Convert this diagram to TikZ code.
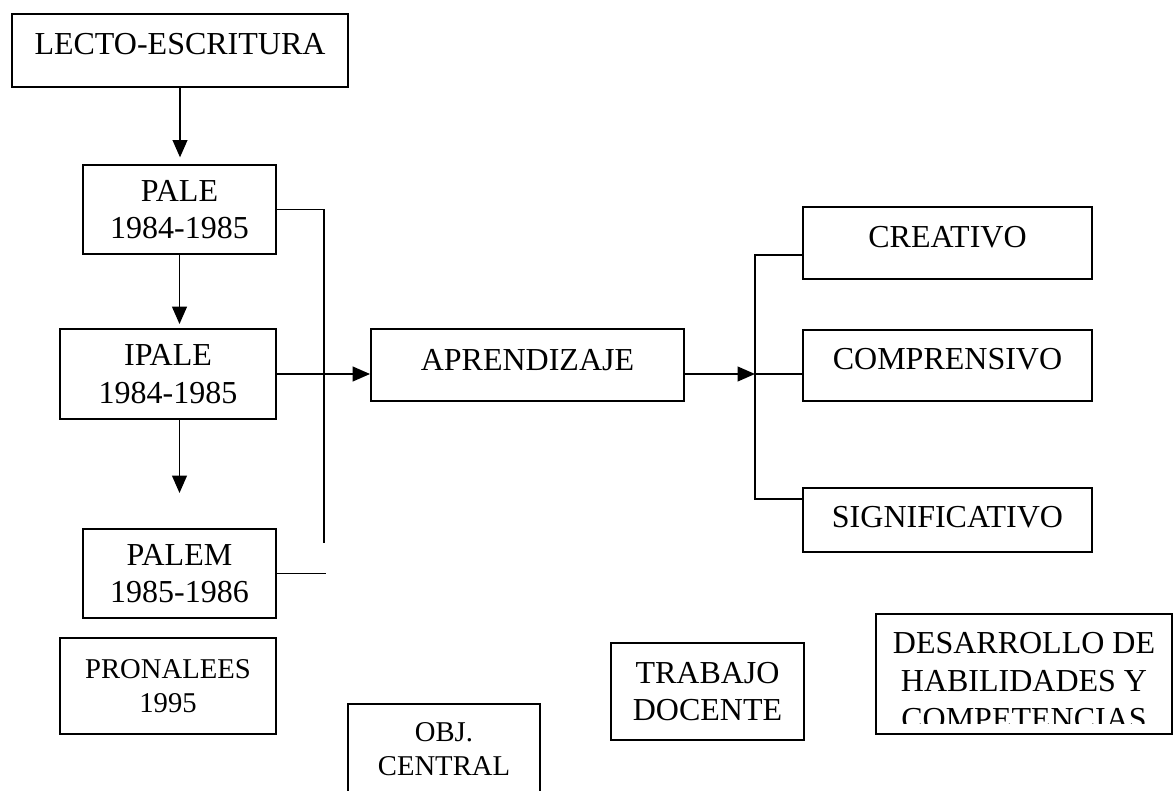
\documentclass[tikz,border=0pt]{standalone}
\usepackage{fontspec}
\setmainfont{Liberation Serif}
\usetikzlibrary{arrows.meta}
\tikzset{
  box/.style={draw, line width=1.4pt, inner sep=0pt, align=center,
    font=\fontsize{24}{28}\selectfont},
  smallbox/.style={box, font=\fontsize{21.5}{25.5}\selectfont},
  txt/.style={inner sep=0pt, align=center, font=\fontsize{24}{28.5}\selectfont},
  link/.style={line width=1.4pt},
  arr/.style={link, -{Triangle[length=13pt,width=11pt]}},
}
\begin{document}
\begin{tikzpicture}[x=0.75pt, y=-0.75pt]
\clip (0,0) rectangle (1174,791);
% left column
\node[box, minimum width=252pt, minimum height=54.75pt, text depth=9.75pt] (lecto) at (180,50.5) {LECTO-ESCRITURA};
\node[box, minimum width=144.75pt, minimum height=66.75pt] (pale) at (179.5,209.5) {PALE\\1984-1985};
\node[box, minimum width=162pt, minimum height=67.5pt] (ipale) at (168,374) {IPALE\\1984-1985};
\node[box, minimum width=144.75pt, minimum height=66.75pt] (palem) at (179.5,573.5) {PALEM\\1985-1986};
\node[smallbox, minimum width=162pt, minimum height=72pt] (pronalees) at (168,686) {PRONALEES\\1995};
\node[smallbox, minimum width=144pt, minimum height=67.5pt] (obj) at (444,749) {OBJ.\\CENTRAL};
% centre
\node[box, minimum width=234.75pt, minimum height=54pt, text depth=7.5pt] (aprendizaje) at (527.5,365) {APRENDIZAJE};
\node[box, minimum width=144.75pt, minimum height=72.75pt] (trabajo) at (707.5,691.5) {TRABAJO\\DOCENTE};
% right column
\node[box, minimum width=216.75pt, minimum height=54pt, text depth=9.75pt] (creativo) at (947.5,243) {CREATIVO};
\node[box, minimum width=216.75pt, minimum height=53.25pt, text depth=9.75pt] (comprensivo) at (947.5,365.5) {COMPRENSIVO};
\node[box, minimum width=216.75pt, minimum height=48pt, text depth=5.25pt] (significativo) at (947.5,520) {SIGNIFICATIVO};
\node[box, minimum width=222pt, minimum height=90pt] (desarrollo) at (1024,674) {};
\begin{scope}
\clip (desarrollo.north west) rectangle ([yshift=8.25pt]desarrollo.south east);
\node[txt] (desarrollo-txt) at (1024,681) {DESARROLLO DE\\HABILIDADES Y\\COMPETENCIAS};
\end{scope}

\coordinate (rail) at (324,543);
\coordinate (gap) at (179.5,493);
\coordinate (hub) at (755,374);
\coordinate (top) at (755,255);
\coordinate (bot) at (755,499);

\draw[arr, shorten >=5pt] (lecto.south) -- (lecto.south |- pale.north);
\draw[arr, shorten >=3pt] (pale.south) -- (pale.south |- ipale.north);
\draw[arr] (pale.south |- ipale.south) -- (gap);
\draw[link] (pale.east) -| (rail);
\draw[link] (palem.east) -- ([xshift=1.5pt]palem.east -| rail);
\draw[arr] (ipale.east) -- (ipale.east -| aprendizaje.west);
\draw[arr] (aprendizaje.east |- hub) -- (hub);
\draw[link] (creativo.west |- top) -- (top) -- (bot) -- (significativo.west |- bot);
\draw[link] (comprensivo.west |- hub) -- (hub);
\end{tikzpicture}
\end{document}
